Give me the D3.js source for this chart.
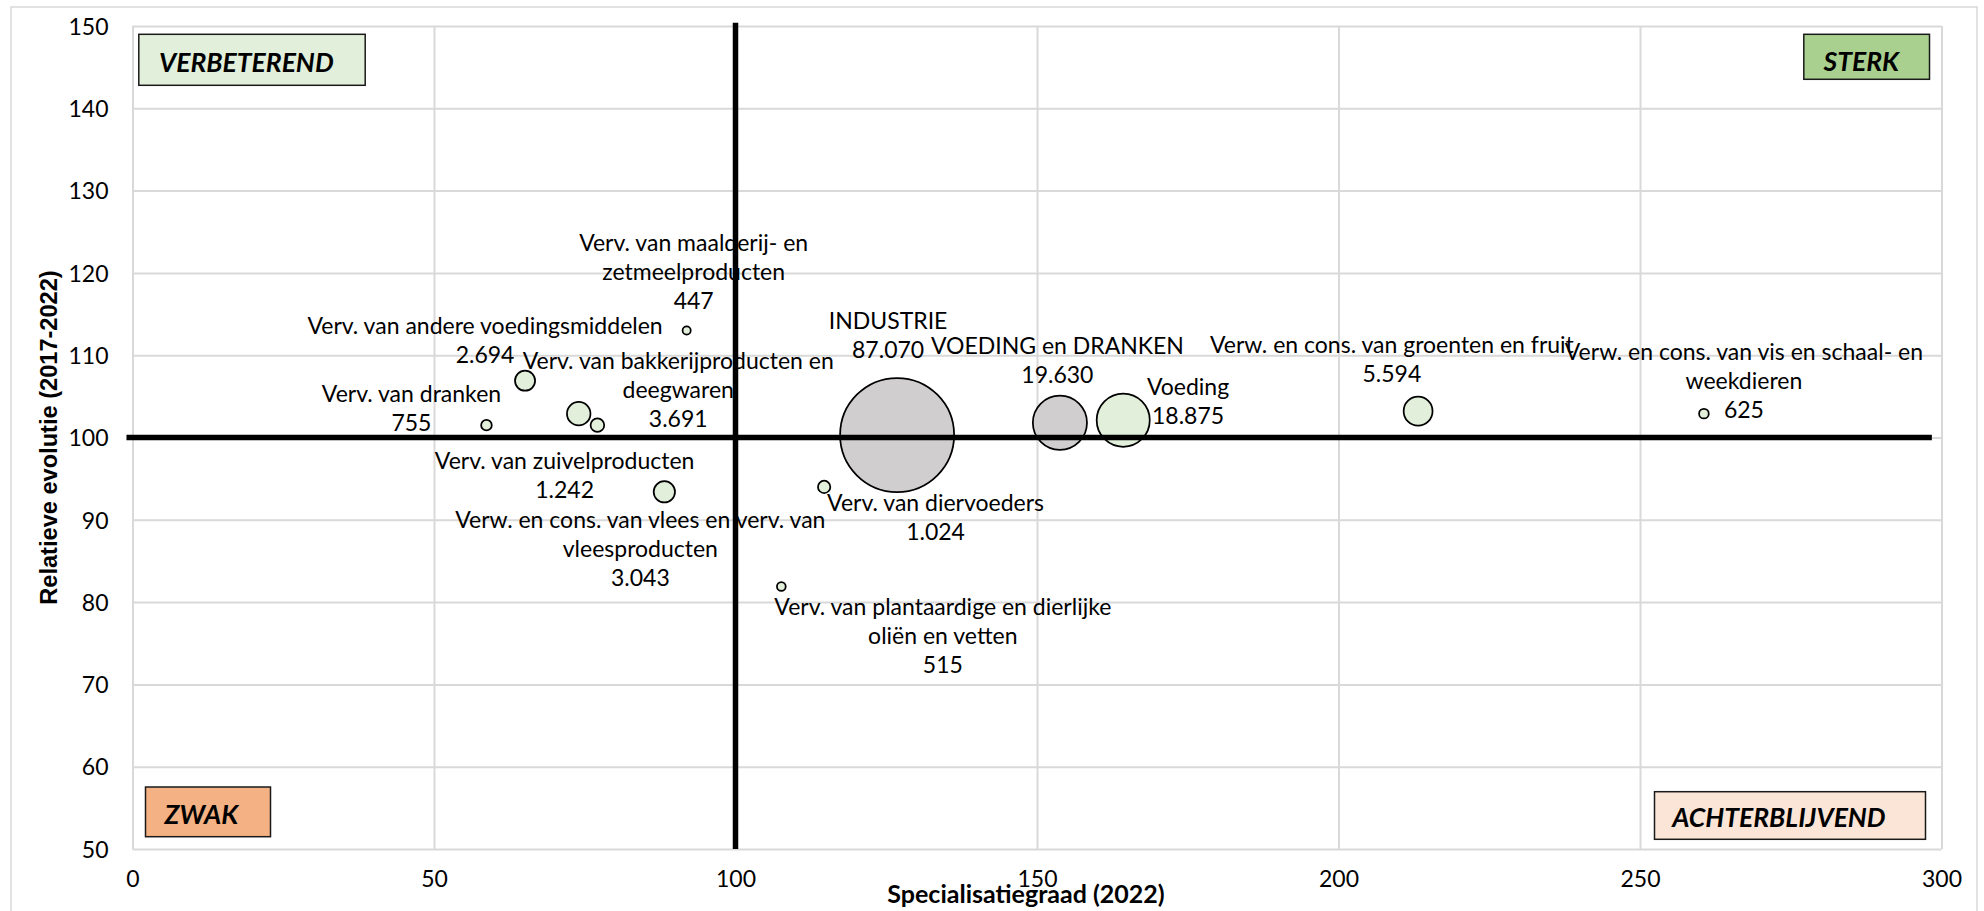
<!DOCTYPE html>
<html><head><meta charset="utf-8">
<script src="https://cdn.jsdelivr.net/npm/d3@7"></script>
<style>html,body{margin:0;padding:0;background:#fff;} svg{display:block;}</style>
</head><body><svg id="chart" width="1984" height="911"></svg>
<script>
// ---------- DATA ----------
const categories = [
  "INDUSTRIE",
  "VOEDING en DRANKEN",
  "Voeding",
  "Verw. en cons. van vlees en verv. van|vleesproducten",
  "Verw. en cons. van vis en schaal- en|weekdieren",
  "Verw. en cons. van groenten en fruit",
  "Verv. van plantaardige en dierlijke|oliën en vetten",
  "Verv. van zuivelproducten",
  "Verv. van maalderij- en|zetmeelproducten",
  "Verv. van bakkerijproducten en|deegwaren",
  "Verv. van andere voedingsmiddelen",
  "Verv. van diervoeders",
  "Verv. van dranken"
];
const specialisatiegraad = [126.8, 153.8, 164.3, 88.2, 260.6, 213.2, 107.6, 77.1, 91.9, 74.0, 65.1, 114.7, 58.7];
const relatieveEvolutie  = [100.3, 101.8, 102.1, 93.4, 102.9, 103.2, 81.9, 101.5, 113.0, 102.9, 106.9, 94.0, 101.5];
const werkgelegenheid    = [87070, 19630, 18875, 3043, 625, 5594, 515, 1242, 447, 3691, 2694, 1024, 755];
const niveau             = ["totaal", "totaal", "sector", "sector", "sector", "sector", "sector", "sector", "sector", "sector", "sector", "sector", "sector"];
const xTicks = [0, 50, 100, 150, 200, 250, 300];
const yTicks = [50, 60, 70, 80, 90, 100, 110, 120, 130, 140, 150];
const quadrantNames = ["VERBETEREND", "STERK", "ZWAK", "ACHTERBLIJVEND"];
const referenceX = 100, referenceY = 100;
const xTitle = "Specialisatiegraad (2022)";
const yTitle = "Relatieve evolutie (2017-2022)";

// ---------- LAYOUT (positions / styles) ----------
const plot = {left: 132.5, right: 1941.5, top: 26, bottom: 849};
const labelOffsets = [[-9,-106.4],[-2.5,-68.3],[64.8,-25],[-24,35.8],[40,-53.3],[-26.2,-57.7],[161.5,28.3],[-32.8,44.3],[7,-79.7],[99.5,-45],[-40,-47.2],[111.4,24.3],[-75,-22.7]];
const lineStep = 29;
const fillFor = {totaal: "#d0cece", sector: "#e2efda"};
const quadrantLayout = [
  {x: plot.left + 6.3, y: plot.top + 8.3, w: 226.4, h: 51, tx: 20.2, ty: 37.4, fill: "#e2efda"},
  {x: plot.right - 137.7, y: plot.top + 8.3, w: 125.7, h: 45, tx: 19.7, ty: 36.7, fill: "#a9d08e"},
  {x: plot.left + 13, y: plot.bottom - 62, w: 125, h: 49.7, tx: 19.1, ty: 37, fill: "#f4b183"},
  {x: plot.right - 287, y: plot.bottom - 57.3, w: 271, h: 47.6, tx: 17.7, ty: 35, fill: "#fbe5d6"}
];
const FONT = "Lato, 'Liberation Sans', sans-serif";

const svg = d3.select("#chart");
const x = d3.scaleLinear().domain([0, 300]).range([plot.left, plot.right]);
const y = d3.scaleLinear().domain([50, 150]).range([plot.bottom, plot.top]);
const r = d3.scaleSqrt().domain([0, 87070]).range([0, 57]);
const nl = d3.formatLocale({decimal: ",", thousands: ".", grouping: [3], currency: ["€", ""]});
const fmt = nl.format(",d");

// outer chart border
svg.append("rect").attr("x", 11).attr("y", 7).attr("width", 1966).attr("height", 930)
  .attr("fill", "#fff").attr("stroke", "#d9d9d9").attr("stroke-width", 1.5);

// gridlines + tick labels via axes
const gx = svg.append("g").attr("transform", `translate(0,${plot.bottom})`)
  .call(d3.axisBottom(x).tickValues(xTicks).tickSize(-(plot.bottom - plot.top)).tickFormat(d => d));
gx.select(".domain").remove();
gx.selectAll(".tick line").attr("stroke", "#d9d9d9").attr("stroke-width", 2);
gx.selectAll(".tick text").attr("font-family", FONT).attr("font-size", 23).attr("fill", "#000")
  .attr("dy", null).attr("y", 38);

const gy = svg.append("g").attr("transform", `translate(${plot.left},0)`)
  .call(d3.axisLeft(y).tickValues(yTicks).tickSize(-(plot.right - plot.left)).tickFormat(d => d));
gy.select(".domain").remove();
gy.selectAll(".tick line").attr("stroke", "#d9d9d9").attr("stroke-width", 2);
gy.selectAll(".tick text").attr("font-family", FONT).attr("font-size", 23).attr("fill", "#000")
  .attr("x", -24).attr("dy", "0.36em");

// bubbles
const idx = d3.range(categories.length);
svg.append("g").selectAll("circle").data(idx).join("circle")
  .attr("cx", i => x(specialisatiegraad[i]))
  .attr("cy", i => y(relatieveEvolutie[i]))
  .attr("r", i => r(werkgelegenheid[i]))
  .attr("fill", i => fillFor[niveau[i]])
  .attr("stroke", "#000").attr("stroke-width", 1.75);

// reference lines
svg.append("line").attr("x1", x(-1)).attr("x2", x(298.4)).attr("y1", y(referenceY)).attr("y2", y(referenceY))
  .attr("stroke", "#000").attr("stroke-width", 5.5);
svg.append("line").attr("x1", x(referenceX)).attr("x2", x(referenceX)).attr("y1", y(50)).attr("y2", y(150.4))
  .attr("stroke", "#000").attr("stroke-width", 5.5);

// data labels
const lg = svg.append("g").attr("font-family", FONT).attr("font-size", 23).attr("fill", "#000").attr("text-anchor", "middle");
idx.forEach(i => {
  const lines = categories[i].split("|").concat([fmt(werkgelegenheid[i])]);
  const cx = x(specialisatiegraad[i]) + labelOffsets[i][0];
  const by = y(relatieveEvolutie[i]) + labelOffsets[i][1];
  const t = lg.append("text").attr("x", cx).attr("y", by);
  lines.forEach((s, k) => t.append("tspan").attr("x", cx).attr("y", by + k * lineStep).text(s));
});

// quadrant boxes
quadrantLayout.forEach((q, i) => {
  svg.append("rect").attr("x", q.x).attr("y", q.y).attr("width", q.w).attr("height", q.h)
    .attr("fill", q.fill).attr("stroke", "#1a1a1a").attr("stroke-width", 1.5);
  svg.append("text").attr("x", q.x + q.tx).attr("y", q.y + q.ty)
    .attr("font-family", FONT).attr("font-size", 26.5).attr("font-weight", "bold").attr("font-style", "italic")
    .attr("fill", "#000").text(quadrantNames[i]);
});

// axis titles
svg.append("text").attr("x", 1026).attr("y", 903).attr("text-anchor", "middle")
  .attr("font-family", FONT).attr("font-size", 25).attr("font-weight", "bold").text(xTitle);
svg.append("text").attr("transform", `translate(57,${(plot.top + plot.bottom) / 2}) rotate(-90)`)
  .attr("text-anchor", "middle").attr("font-family", "'Liberation Sans', Arial, sans-serif")
  .attr("font-size", 23.6).attr("font-weight", "bold").text(yTitle);
</script>
</body></html>
